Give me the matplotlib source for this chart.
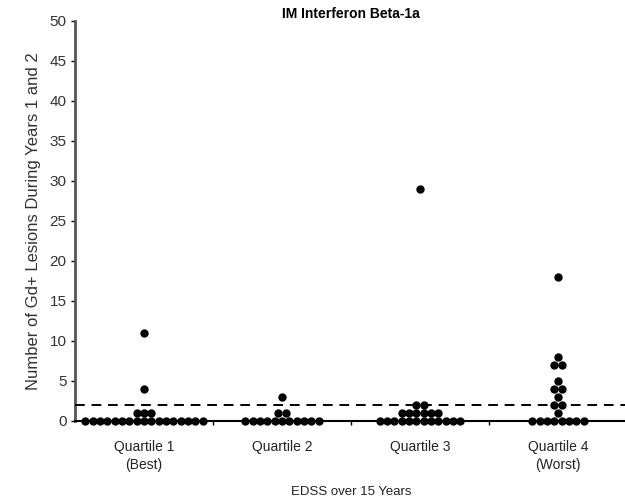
import numpy as np
import matplotlib
matplotlib.use("Agg")
import matplotlib.pyplot as plt

plt.rcParams['font.family'] = ['Liberation Sans', 'DejaVu Sans']

# Gd+ lesion counts per patient, by EDSS quartile
categories = ['Quartile 1\n(Best)', 'Quartile 2', 'Quartile 3', 'Quartile 4\n(Worst)']
q1 = [0, 0, 0, 0, 0, 0, 0, 0, 0, 0, 0, 0, 0, 0, 0, 0, 0, 1, 1, 1, 4, 11]
q2 = [0, 0, 0, 0, 0, 0, 0, 0, 0, 0, 0, 1, 1, 3]
q3 = [0, 0, 0, 0, 0, 0, 0, 0, 0, 0, 0, 0, 1, 1, 1, 1, 1, 1, 2, 2, 29]
q4 = [0, 0, 0, 0, 0, 0, 0, 0, 1, 2, 2, 3, 4, 4, 5, 7, 7, 8, 18]
groups = [q1, q2, q3, q4]
ref_line = 2

fig = plt.figure(figsize=(6.25, 5.01), dpi=100)
ax = fig.add_axes([0.12, 0.1597, 0.8832, 0.7984])

# stack equal values side by side, centred on the category
spacing = 0.053
for i, vals in enumerate(groups):
    vals = np.array(vals)
    for v in np.unique(vals):
        n = np.sum(vals == v)
        xs = i + (np.arange(n) - (n - 1) / 2) * spacing
        ax.plot(xs, [v] * n, 'o', color='black', markersize=5,
                clip_on=False, zorder=5)

ax.axhline(ref_line, color='black', lw=1.4, dashes=(5, 3.5), zorder=3)

ax.set_xlim(-0.5, 3.5)
ax.set_ylim(0, 50)
ax.set_yticks(np.arange(0, 51, 5))
ax.set_xticks(range(4))
ax.set_xticklabels(categories, fontsize=10, color='#222222', linespacing=1.35)
ax.set_xticks([0.5, 1.5, 2.5], minor=True)
ax.tick_params(axis='x', which='major', length=0, pad=14)
ax.tick_params(axis='x', which='minor', length=3, width=1)
ax.tick_params(axis='y', length=3, width=1, labelsize=11, labelcolor='#333333', pad=3)

for s in ['top', 'right']:
    ax.spines[s].set_visible(False)
ax.spines['left'].set_color('#555555')
ax.spines['left'].set_linewidth(2)
ax.spines['bottom'].set_linewidth(1.5)
ax.spines['bottom'].set_zorder(4)

ax.set_title('IM Interferon Beta-1a', fontsize=10, fontweight='bold', pad=0)
ax.set_ylabel('Number of Gd+ Lesions During Years 1 and 2', fontsize=12, color='#333333', labelpad=6)
ax.set_xlabel('EDSS over 15 Years', fontsize=9.5, color='#222222', labelpad=10)

fig.savefig('out.png', dpi=100)
